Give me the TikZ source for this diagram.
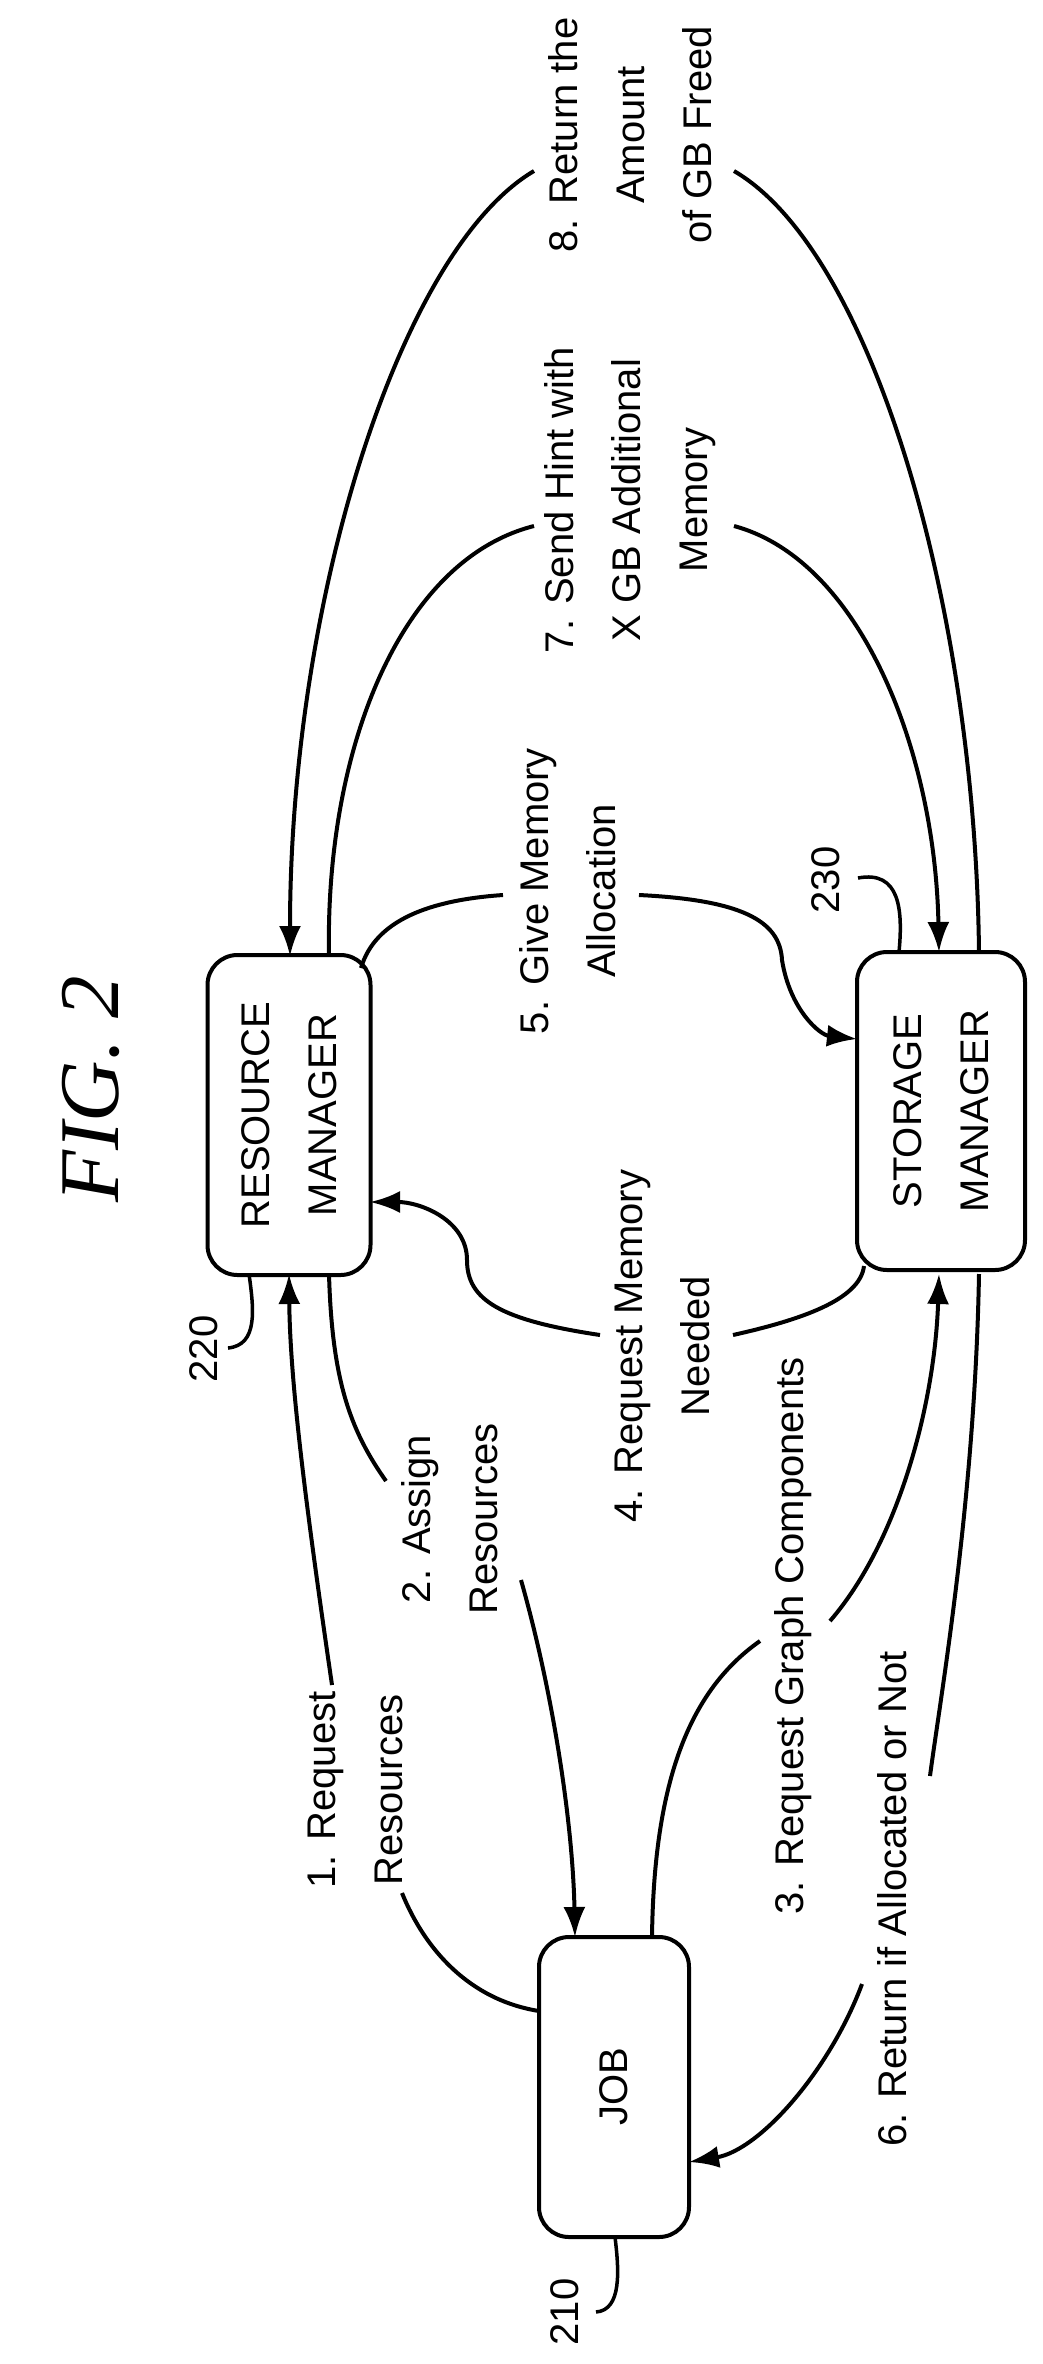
\documentclass[tikz,border=0pt]{standalone}
\usepackage{fontspec}
\setmainfont{Liberation Sans}
\newfontfamily\figfont{Liberation Serif}
\usetikzlibrary{arrows.meta}
\begin{document}
\begin{tikzpicture}[x=1pt,y=-1pt,
  box/.style={draw,line width=4pt,rounded corners=30pt,align=center,inner sep=0pt,font=\fontsize{40}{67}\selectfont,rotate=90},
  lbl/.style={align=center,rotate=90,inner sep=0pt,font=\fontsize{40}{67}\selectfont},
  con/.style={line width=4pt},
  arr/.style={line width=4pt,-{Latex[length=30pt,width=22pt]}},
  lead/.style={line width=3.5pt}]
\useasboundingbox (0,0) rectangle (1043,2364);
\node[font=\figfont\itshape\fontsize{85}{90}\selectfont,rotate=90] (fig) at (91,1089) {FIG. 2};
\node[box,minimum width=320pt,minimum height=163pt] (rm) at (289,1115) {RESOURCE\\MANAGER};
\node[box,minimum width=318pt,minimum height=168pt] (sm) at (941,1111) {STORAGE\\MANAGER};
\node[box,minimum width=300pt,minimum height=150pt] (job) at (614,2087) {JOB};
\node[lbl] (n220) at (204,1349) {220};
\node[lbl] (n230) at (826,880) {230};
\node[lbl] (n210) at (565,2312) {210};
\node[lbl] (l1) at (355,1790) {1. Request\\Resources};
\node[lbl] (l2) at (450,1519) {2. Assign\\Resources};
\node[lbl] (l3) at (793,1636) {3. Request Graph Components};
\node[lbl] (l4) at (662,1346) {4. Request Memory\\Needed};
\node[lbl] (l5) at (568,891) {5. Give Memory\\Allocation};
\node[lbl] (l6) at (892,1899) {6. Return if Allocated or Not};
\node[lbl] (l7) at (630,500) {7. Send Hint with\\X GB Additional\\Memory};
\node[lbl] (l8) at (630,135) {8. Return the\\Amount\\of GB Freed};
% coordinates
\coordinate (j1) at (539,2011); \coordinate (a1b) at (402,1893);
\coordinate (a1t) at (332,1685); \coordinate (r1) at (289,1274);
\coordinate (r2) at (329,1274); \coordinate (a2t) at (386,1481);
\coordinate (a2b) at (521,1580); \coordinate (j2) at (575,1937);
\coordinate (j3) at (652,1937); \coordinate (a3b) at (760,1641);
\coordinate (a3t) at (830,1621); \coordinate (s3) at (939,1274);
\coordinate (s4) at (864,1266); \coordinate (a4r) at (733,1335);
\coordinate (a4l) at (600,1335); \coordinate (r4) at (370,1202);
\coordinate (r5) at (361,968); \coordinate (a5l) at (503,895);
\coordinate (a5r) at (639,895); \coordinate (s5) at (857,1039);
\coordinate (r7) at (329,956); \coordinate (a7l) at (534,526);
\coordinate (a7r) at (734,526); \coordinate (s7) at (939,952);
\coordinate (r8) at (290,956); \coordinate (a8l) at (534,171);
\coordinate (a8r) at (734,171); \coordinate (s8) at (979,952);
\coordinate (s6) at (979,1274); \coordinate (a6t) at (930,1776);
\coordinate (a6b) at (862,1984); \coordinate (j6) at (689,2162);
% 1
\draw[con] (j1) .. controls (470,2000) and (425,1950) .. (a1b);
\draw[arr] (a1t) .. controls (305,1500) and (290,1380) .. (r1);
% 2
\draw[con] (r2) .. controls (332,1380) and (350,1430) .. (a2t);
\draw[arr] (a2b) .. controls (555,1700) and (573,1830) .. (j2);
% 3
\draw[con] (j3) .. controls (654,1780) and (690,1690) .. (a3b);
\draw[arr] (a3t) .. controls (900,1540) and (935,1400) .. (s3);
% 4
\draw[con] (s4) .. controls (860,1300) and (800,1320) .. (a4r);
\draw[arr] (a4l) .. controls (500,1320) and (467,1300) .. (467,1260) .. controls (467,1220) and (420,1202) .. (r4);
% 5
\draw[con] (r5) .. controls (375,920) and (430,900) .. (a5l);
\draw[arr] (a5r) .. controls (740,900) and (780,920) .. (782,960) .. controls (790,1010) and (820,1035) .. (s5);
% 6
\draw[con] (s6) .. controls (975,1500) and (940,1700) .. (a6t);
\draw[arr] (a6b) .. controls (830,2070) and (760,2150) .. (j6);
% 7
\draw[con] (r7) .. controls (325,750) and (400,560) .. (a7l);
\draw[arr] (a7r) .. controls (860,560) and (935,750) .. (s7);
% 8
\draw[arr] (a8l) .. controls (400,250) and (290,600) .. (r8);
\draw[con] (s8) .. controls (975,600) and (870,250) .. (a8r);
% leaders
\coordinate (q220) at (249,1274); \coordinate (e220) at (228,1348);
\draw[lead] (q220) .. controls (254,1310) and (258,1345) .. (e220);
\coordinate (q230) at (899,952); \coordinate (e230) at (858,878);
\draw[lead] (q230) .. controls (903,910) and (900,870) .. (e230);
\coordinate (q210) at (615,2237); \coordinate (e210) at (596,2312);
\draw[lead] (q210) .. controls (619,2270) and (622,2310) .. (e210);
\end{tikzpicture}
\end{document}
